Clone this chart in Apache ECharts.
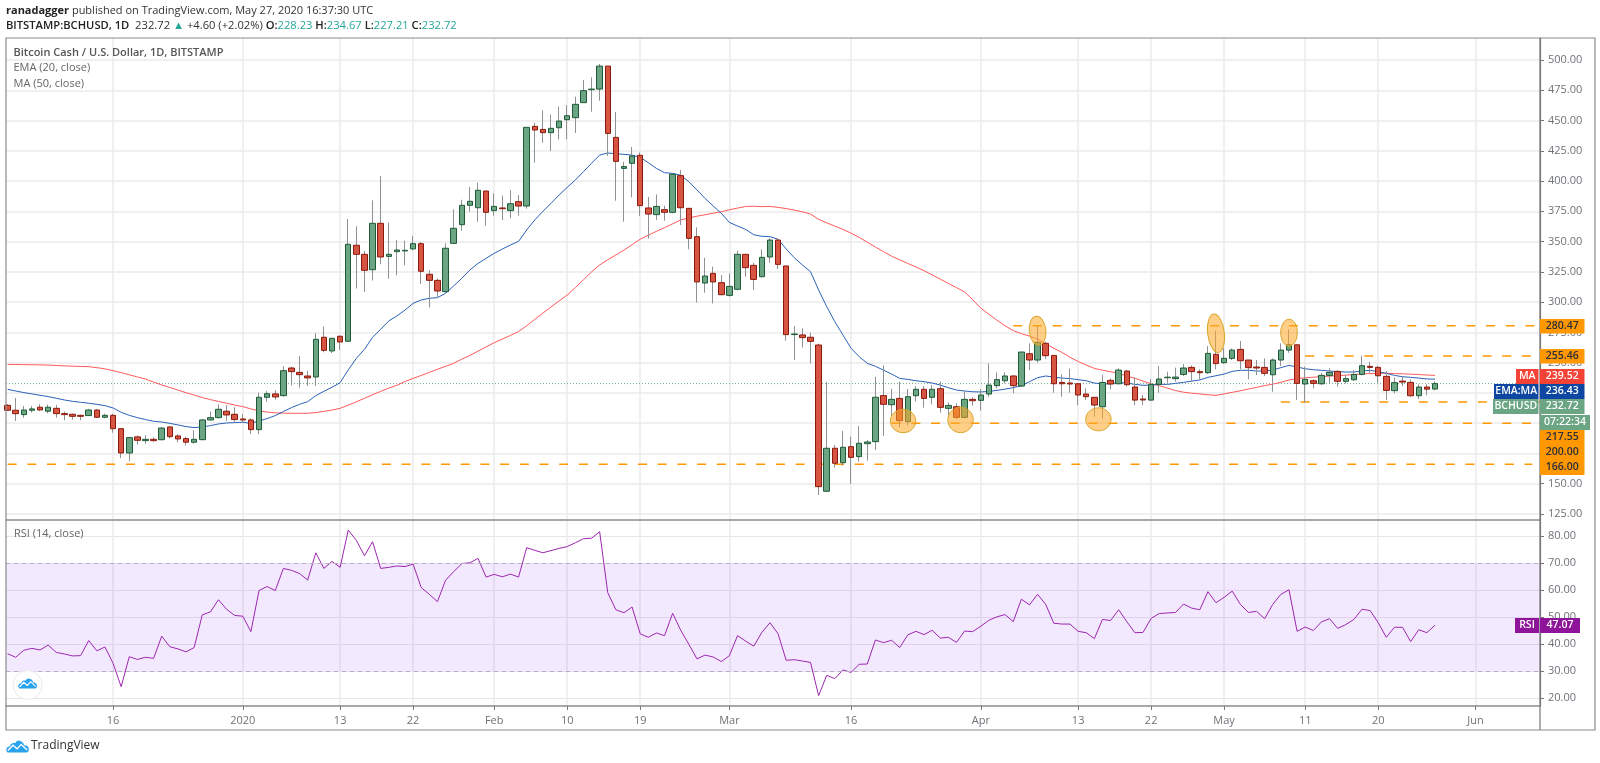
<!DOCTYPE html>
<html><head><meta charset="utf-8">
<style>html,body{margin:0;padding:0;background:#fff}#c{width:1600px;height:763px;filter:blur(.35px)}</style>
<script src="https://cdn.jsdelivr.net/npm/echarts@6/dist/echarts.min.js"></script>
</head><body><div id="c"></div>
<script>
// Daily candles, [open, high, low, close]
const ohlcDec=[[214.8,215.9,210.1,210.7],[210.7,220.9,201.9,207.9],[207.1,214.3,204.6,210.9],[210.7,214.3,208.8,211.8],[213.2,215.6,209.9,211],[209.9,215.4,208.2,213.2],[212.3,215.1,204.6,207.9],[207.9,209.6,202.4,207.1],[207.4,207.9,203,205.7],[206.5,207.1,202.4,205.7],[206.3,211.8,206,210.9],[210.9,211.8,204.3,204.9],[204.9,207.9,204,206.5],[206.5,207.9,192.2,195.5],[195.5,196,171.3,175.4],[175.4,188.7,168.6,188.1],[188.7,189.8,182.3,185.9],[185.6,190.3,183.1,186.7],[186.7,188.4,184.8,185.6],[186.4,196.6,185.6,196],[196.9,197.5,187.5,188.9],[189.5,190.9,184.3,187],[187.3,188.9,181.5,184.3],[184.3,194.2,183.1,186.7],[186.4,203.2,186.2,202.7],[202.7,209.6,202.1,204.6],[204.6,215.6,204,211.5],[209.9,215.1,201.9,206.8],[207.4,213.2,200.8,203]];
const ohlcJan=[[203.5,207.6,200.2,202.7],[202.7,204,191.1,194.7],[194.7,225.3,190.9,221.4],[221.4,226.6,217.8,224.4],[224.2,227.2,219.5,221.7],[222.8,247,222,243.4],[245.6,246.7,231.3,242.6],[242,255.6,229.4,240.1],[239,243.4,230.8,237.4],[238.2,274.3,230.8,269.3],[271,279.8,258.6,260.2],[259.7,270.7,258,270.1],[271.8,272.6,260.5,267.1],[267.7,368.7,267,347.8],[347,362.6,311.2,339.5],[339.5,342.3,308.4,326.3],[326.8,384.1,317.8,365.1],[365.1,404.2,331.3,337.3],[337.8,365.7,319.4,339.5],[341.7,351.3,322.2,343.1],[342.3,350.8,330.4,342.8],[344,354.6,342.8,348.3],[348.3,349.7,315,325.5],[323,326.5,295.7,318],[318,319.4,304,309.2],[308.7,348.6,307.8,344.5],[348.6,376.7,348,361],[364,384.6,359,380],[380,395.1,374.7,383.3],[378,398.7,366.5,392.4],[391.8,392,363.2,374.2]];
const ohlcFeb=[[375.6,389.9,371.4,379.1],[377.8,388,367.9,377.2],[375.6,392.6,369.2,381.3],[383,388.5,371.4,379.4],[379.4,444.4,377.2,444.4],[445.2,448.3,415.2,442.2],[442.7,458.4,431.7,440],[440,454.8,424.8,443.6],[444.1,461.5,434.5,449.6],[450.7,462.8,434.5,454],[452.4,469.7,439.7,463.4],[464.8,483.5,464.5,474.7],[475.5,485.7,457.3,476],[476,496.7,466.4,495],[495,495,420.7,439.4],[436.1,457,383.8,416.3],[410.5,416,366.5,412],[414.7,428.2,386.6,420.7],[421.3,423.7,371.2,379.7],[377.8,386.9,352.4,372.8],[372.3,389,367.9,379.1],[376.4,379.7,367.3,374.2],[374.2,405.8,373.4,405.6],[404.5,409.2,363.7,378],[377.5,377.5,343.6,352.7],[354.1,361.8,299.6,316.7],[315.8,336.7,307.8,321.6],[323.8,329.3,299,316.7],[316.1,322.4,305.6,306.2]];
const ohlcMar=[[305.6,323.8,304.5,313],[310.6,342.5,310,339.5],[339.5,339.5,321,328.5],[330.4,332.6,310,318.8],[321,343.6,320.5,337],[337.3,352.7,332.6,351.3],[351.3,352.7,327.4,331.2],[329.9,329.9,268.2,273.2],[273.2,280.3,252.2,273.7],[272.9,278.4,262.4,270.7],[271,274.8,249.5,267.6],[264.6,265.7,140.7,147.6],[143.8,234,143.2,179.3],[179.3,182,163.3,166.9],[167.4,193.6,165,180.1],[180.6,188.9,149.8,171.8],[172.4,197.7,168.3,183.4],[183.1,186.2,169.1,184.5],[184.8,238.4,177.9,221.4],[222.8,247.8,189.5,215.6],[215.3,228.5,205.9,219.7],[220.5,234.3,196.6,202.1],[201.3,228.2,198,221.9],[222.7,230.7,218,228],[228,230.7,212.8,220.5],[221.4,231.5,215.6,228],[228.5,234.3,208.7,213.1],[212.3,217,206.8,214.7],[213.6,216.4,203.2,204.8],[204.8,226.6,204,219.7],[219.7,221.4,214.5,218.6]];
const ohlcApr=[[218.9,228.2,210.3,223.3],[224.1,249.4,221.9,231.5],[231,242,228.8,236],[235.1,242,232.9,239],[239,239.8,224.7,231],[230.7,258.8,230,258.8],[257.4,266,243.9,252.2],[252.2,280.5,250,266.8],[266,267.3,253,255.8],[256,256,225.2,232.6],[233.7,240.3,221.9,232.6],[233.2,245,225.2,232.4],[232.6,232.6,215,223.3],[224.1,228.8,219.1,221.9],[221.4,221.4,205.4,215],[213.6,239.8,204,233.7],[235.4,237,228,232.4],[232.6,245.3,232,243.9],[243.1,244,230.2,231.8],[229.9,237.9,215,219.1],[220,223.3,215,219.2],[219.1,236.5,218.6,232.1],[232.1,247.2,225.2,236.5],[237.6,242.5,233.5,238],[236.8,245.9,234.3,238.1],[240.3,248.9,239,245.6],[246.1,247.8,234.3,242.6],[242.6,244.5,236.2,241.7],[241.7,263.7,240.6,257.7],[256.9,276.4,244.5,249.2]];
const ohlcMay=[[250,262,249,253.6],[253.6,261.8,252.2,260.4],[261,267.9,244.5,251.6],[252.2,252.2,236.2,245.9],[246.4,252.2,239.8,245.6],[246.1,253.6,239,241.2],[240,253.6,226,252.2],[252.2,266,247.2,260.4],[260.4,277.5,258.2,264.8],[264.8,264.8,219.1,232.9],[232.4,246.7,217,236.2],[235.1,236.2,228.8,232.9],[232.6,241.7,231.5,239.5],[239.5,245.3,232.9,242],[242.8,243.9,230.2,234.6],[234.6,239.8,232.9,236.8],[235.9,243.9,235.1,240.3],[240.3,255.8,239.5,247.5],[247,250.8,241.7,246.1],[246.1,247.2,233.5,239.2],[238.7,243.1,219.1,227.1],[226.9,237.9,224.7,233.5],[234.8,239,230.7,234],[233.7,236.2,221.9,222.7],[222.7,232.1,220,229.9],[229.9,232.1,223,228.12],[228.23,234.67,227.21,232.72]];
const ema20=[228,226.6,225.3,224.2,223.1,222,220.6,219.2,218.1,217.3,216.5,215.6,214.5,212.6,209,206.5,204.6,203,201.6,201,199.9,198.6,197.2,196.4,196.9,198,199.4,200.2,200.5,
200.8,199.9,201.9,203.8,206.3,209.6,212.9,215.6,217.8,222.8,226.4,229.7,233.5,244,253.6,261,271,277.6,284.5,288.6,293.5,299,301.8,303.2,303.7,307.3,313.4,319.7,326.6,332,336.2,
340.3,343.9,347.2,350.2,359.6,367.9,375,381.6,388.5,394.8,400.9,407.8,414.7,421.5,423.2,422.6,422.1,421.5,419.6,415.2,410.5,406.9,406.4,404.8,399.5,392.6,385.7,379.4,373.4,
365.8,362.9,360.1,355.7,354.4,354.1,351.9,343.9,336.7,330.7,325.2,310,296.3,283.9,272.9,261.9,255,249.5,247,243.9,240.6,237,236.2,235.1,234.3,233.2,231.5,229.3,227.4,226.6,226,
225.8,226.3,227.1,228.2,229.3,231,234.3,237.6,239,238.1,237.3,236.8,236,235.1,233.2,232.4,232.6,233.5,233.2,232.1,231.3,231.5,232.1,232.1,232.9,233.7,234.8,235.7,237.9,239.2,
240.6,242.8,243.7,243.7,243.1,243.1,243.9,245.9,247.8,246.4,245,244.2,243.7,243.1,242.6,242.3,242.3,243.1,243.7,242.6,241.2,239.5,238.4,237.9,237.3,236.5,236.43];
const ma50=[248.6,248.5,248.4,248.3,248.2,248,247.7,247.4,247.1,246.9,246.7,245.9,244.9,243.4,241.8,240,238.2,236.5,234,231.6,229.5,227.4,225.2,223.3,221.2,219.5,218,216.5,215,
213.7,211.8,210.3,209.2,208.6,208.3,208.2,208.2,208.2,208.8,209.8,210.9,212.3,214.9,217.7,220.6,223.5,226.3,229,231.3,234.5,237,239.5,242,244.6,247,249.5,252.9,256,259.5,263,
266.5,269.5,272.5,275.7,280.5,285.8,291,296,301,305.9,312,318.5,325,330.7,335,339,343,347.5,352,355.3,358.5,361.5,364.7,367.9,369.5,371,372.2,373.5,374.7,
376.3,377.7,379,379.2,378.9,379.1,378.3,377.3,376,374.6,372.8,368.4,365.5,362.8,360.1,357,353.5,349.5,345.5,341.8,338,335,332,329,326,322.5,319,315.5,312,308.5,302,
295,290,285,280.5,276.5,274,272,269.5,265.5,262,258.5,254.5,251,248,245.3,243.8,242.5,241.2,239,237,234.8,232.5,231,229,227,225.6,224.8,224.2,223.5,223,
224.2,225.5,226.8,228.2,229.6,231,232.3,233.8,235.7,236.9,237.5,238,238.5,238.9,239.3,239.7,240.2,240.7,241,241.2,241.3,241,240.8,240.5,240.2,239.8,239.52];
const rsi14=[36.5,35.2,37.8,38.5,37.9,39.7,37,36.4,35.7,35.8,41.4,37.6,39,33,24.3,35.4,34.4,35.2,34.8,43,39.1,38.3,37.2,38.8,50.9,52,56.5,53,50.7,
50.4,44.7,59.9,61.4,59.9,68.1,67.4,66.2,63.8,73.9,68.1,70.7,68.5,82.3,78.5,72.8,78,68.1,68.5,69,68.8,69.7,61,58.5,55.8,63.7,66.9,69.9,70.2,71.8,64.9,
65.9,65,66,64.9,75.8,74.8,73.9,74.7,75.5,76.2,77.6,79.1,79.3,81.7,59.1,52.8,51.7,53.8,43.9,42.6,44.2,43.2,51.5,45.2,40,34.6,36,35.3,33.6,
35.8,43.2,41.2,39.3,44.4,48,43.9,34.1,34.3,33.8,33.3,21,28.5,27.3,30.5,29.6,32.6,32.7,41.6,40.6,41.5,38.8,43.5,44.8,43.6,45.2,42.3,42.6,40.7,44.9,44.7,
46.7,48.9,50.2,51,48.4,56.7,54.6,58.5,54.8,47.8,47.5,47.5,44.8,44.3,42.1,49.2,48.8,52.8,48.4,44.3,44.4,49.6,51.4,51.6,51.8,54.9,53.4,52.8,59.5,55.4,
57.4,59.7,54.8,51.8,52.2,49.5,54.8,58.5,60.2,44.8,46.4,45.1,48.3,49.5,45.9,47.3,49.2,53,52.5,48,42.6,46.3,46.3,41,45.4,44.3,47.07];

const priceTicks=[125,150,175,200,225,250,275,300,325,350,375,400,425,450,475,500];
const rsiTicks=[20,30,40,50,60,70,80];
const timeTicks=['2019-12-16','2020-01-01','2020-01-13','2020-01-22','2020-02-01','2020-02-10','2020-02-19','2020-03-01','2020-03-16','2020-04-01','2020-04-13','2020-04-22','2020-05-01','2020-05-11','2020-05-20','2020-06-01'];
const timeLabels=['16','2020','13','22','Feb','10','19','Mar','16','Apr','13','22','May','11','20','Jun'];
// Support / resistance levels: [start date, end date, price]
const levels=[['2020-04-05','2020-06-09',280.47],['2020-05-11','2020-06-09',255.46],['2020-05-08','2020-06-09',217.55],['2020-03-21','2020-06-09',200],['2019-12-03','2020-06-08',166]];
// Circled spots on the chart: [date, price]
const highlights=[['2020-03-22T10:00Z',201.8],['2020-03-29T12:00Z',202.7],['2020-04-15T12:00Z',203.2],['2020-04-08T00:00Z',276.4],['2020-04-30T00:00Z',274.3],['2020-05-09T00:00Z',274.8]];
const lastClose=232.72;

const ohlc=[...ohlcDec,...ohlcJan,...ohlcFeb,...ohlcMar,...ohlcApr,...ohlcMay];
if(ohlc.length!==177||ema20.length!==177||ma50.length!==177||rsi14.length!==177)throw new Error('len '+[ohlc.length,ema20.length,ma50.length,rsi14.length]);
const DAY=864e5,t0=Date.UTC(2019,11,3);
const dates=ohlc.map((_,i)=>t0+i*DAY);
const xMin=t0-0.2*DAY,xMax=t0+188.95*DAY;
const tickMs=timeTicks.map(s=>Date.parse(s+'T00:00:00Z'));
const zipped=a=>a.map((v,i)=>[dates[i],v]);

const GRAY='#6f7278',FONT='"Open Sans",sans-serif';
const tag=(x,y,w,h,bg,text,color,weight)=>({type:'rect',z:100,shape:{x,y,width:w,height:h},style:{fill:bg},
  textContent:{z:101,style:{text,fill:color,font:`${weight||600} 10.5px ${FONT}`}},textConfig:{position:'inside'}});
const levelSeries=levels.map(l=>({type:'line',xAxisIndex:0,yAxisIndex:0,data:[[Date.parse(l[0]+'T00:00:00Z'),l[2]],[Date.parse(l[1]+'T00:00:00Z'),l[2]]],showSymbol:false,silent:true,z:3,lineStyle:{color:'#ff9800',width:1.5,type:[9,10.7]}}));
const cloud=[[1.5,13],[.3,11],[.6,8.6],[2,7],[3.8,6.8],[5,4.4],[7,3],[9.6,3],[11,1.4],[13.4,.6],[15.6,1.2],[17.6,2.6],[19,5.6],[21.4,5.8],[23.2,7.4],[23.8,9.4],[23.4,11.6],[22,13]];
const logo=(x,y,s)=>({type:'group',x,y,scaleX:s,scaleY:s,z:110,children:[
  {type:'polygon',shape:{points:cloud},style:{fill:'#2aa3ef'},z:110},
  {type:'polyline',shape:{points:[[2,11],[7.2,5.4],[11.6,9.2],[15.8,4.6],[22,10.4]]},style:{stroke:'#fff',lineWidth:1.4,fill:null},z:111}]});

const bands=[0,1];
const option={
 animation:false,useUTC:true,backgroundColor:'#fff',textStyle:{fontFamily:FONT},
 title:[
  {left:6,top:5,padding:0,text:'{b|ranadagger} published on TradingView.com, May 27, 2020 16:37:30 UTC',textStyle:{fontSize:11,fontWeight:400,color:'#333',fontFamily:FONT,rich:{b:{fontSize:11,fontWeight:700,color:'#222',fontFamily:FONT}}}},
  {left:6,top:20,padding:0,text:'{b|BITSTAMP:BCHUSD, 1D}  232.72 {g|▲} +4.60 (+2.02%) {b|O:}{g|228.23} {b|H:}{g|234.67} {b|L:}{g|227.21} {b|C:}{g|232.72}',textStyle:{fontSize:11.2,fontWeight:400,color:'#333',fontFamily:FONT,rich:{b:{fontSize:11.2,fontWeight:600,color:'#222',fontFamily:FONT},g:{fontSize:11.2,color:'#26a69a',fontFamily:FONT}}}},
  {left:13.5,top:47,padding:0,text:'Bitcoin Cash / U.S. Dollar, 1D, BITSTAMP',textStyle:{fontSize:11,fontWeight:600,color:'#555',fontFamily:FONT}},
  {left:13.5,top:62.5,padding:0,text:'EMA (20, close)',textStyle:{fontSize:11,fontWeight:400,color:'#666',fontFamily:FONT}},
  {left:13.5,top:78,padding:0,text:'MA (50, close)',textStyle:{fontSize:11,fontWeight:400,color:'#666',fontFamily:FONT}},
  {left:14,top:528.5,padding:0,text:'RSI (14, close)',textStyle:{fontSize:11,fontWeight:400,color:'#666',fontFamily:FONT}}
 ],
 grid:[{left:6,right:60,top:38,height:482},{left:6,right:60,top:520,height:186}],
 xAxis:bands.map(i=>({type:'value',gridIndex:i,min:xMin,max:xMax,scale:true,
   axisLine:{show:true,onZero:false,lineStyle:{color:'#8c8c8c',width:1.5}},
   axisTick:{show:i===1,length:4,customValues:tickMs,lineStyle:{color:'#777'}},
   axisLabel:{show:i===1,customValues:tickMs,color:GRAY,fontSize:11,margin:9,fontFamily:FONT,formatter:v=>timeLabels[tickMs.indexOf(v)]||''},
   splitLine:{show:true,lineStyle:{color:'#ebebeb',width:1.5}}})),
 yAxis:[
  {type:'value',gridIndex:0,position:'right',min:120.05,max:518.2,
   axisLine:{show:true,lineStyle:{color:'#777',width:1.2}},
   axisTick:{show:true,length:4,customValues:priceTicks,lineStyle:{color:'#777'}},
   axisLabel:{customValues:priceTicks,color:GRAY,fontSize:11,margin:8,fontFamily:FONT,formatter:v=>v.toFixed(2)},
   splitLine:{show:true,lineStyle:{color:'#ebebeb',width:1.5}}},
  {type:'value',gridIndex:1,position:'right',min:17.15,max:86.04,
   axisLine:{show:true,lineStyle:{color:'#777',width:1.2}},
   axisTick:{show:true,length:4,customValues:rsiTicks,lineStyle:{color:'#777'}},
   axisLabel:{customValues:rsiTicks,color:GRAY,fontSize:11,margin:8,fontFamily:FONT,formatter:v=>v.toFixed(2)},
   splitLine:{show:true,lineStyle:{color:'#e9e4ec',width:1.2}}}
 ],
 series:[
  {name:'Last',type:'line',xAxisIndex:0,yAxisIndex:0,data:[[xMin,lastClose],[xMax,lastClose]],showSymbol:false,silent:true,z:2,lineStyle:{color:'#6ba583',width:1,type:[1,2]}},
  {name:'MA (50, close)',type:'line',xAxisIndex:0,yAxisIndex:0,data:zipped(ma50),showSymbol:false,silent:true,z:3,lineStyle:{color:'#ff5a5a',width:1}},
  {name:'EMA (20, close)',type:'line',xAxisIndex:0,yAxisIndex:0,data:zipped(ema20),showSymbol:false,silent:true,z:3,lineStyle:{color:'#2a62b8',width:1}},
  ...levelSeries,
  {name:'Wicks',type:'candlestick',xAxisIndex:0,yAxisIndex:0,barWidth:1,z:4,silent:true,
   data:ohlc.map((d,i)=>[dates[i],d[0],d[3],d[2],d[1]]),
   itemStyle:{color:'#8f9194',color0:'#8f9194',borderColor:'#8f9194',borderColor0:'#8f9194',borderWidth:1}},
  {name:'BCHUSD',type:'candlestick',xAxisIndex:0,yAxisIndex:0,barWidth:6,z:5,silent:true,
   data:ohlc.map((d,i)=>[dates[i],d[0],d[3],Math.min(d[0],d[3]),Math.max(d[0],d[3])]),
   itemStyle:{color:'#6ba583',color0:'#d75442',borderColor:'#1d5a36',borderColor0:'#8a1a0c',borderWidth:1}},
  {name:'Highlights',type:'custom',xAxisIndex:0,yAxisIndex:0,z:6,silent:true,
   data:highlights.map(h=>[Date.parse(h[0]),h[1]]),encode:{x:0,y:1},clip:false,
   renderItem:(p,api)=>{const c=api.coord([api.value(0),api.value(1)]);const s=[[12.7,11.7,0],[12.7,12.7,0],[12.7,11.5,0],[8.3,14.5,.1],[8.3,19.3,.12],[8.3,13.5,0]][p.dataIndex];
     return {type:'ellipse',x:c[0],y:c[1],rotation:s[2],shape:{cx:0,cy:0,rx:s[0],ry:s[1]},style:{fill:'rgba(255,167,38,.55)',stroke:'#d8a62a',lineWidth:1}};}},
  {name:'RSI',type:'line',xAxisIndex:1,yAxisIndex:1,data:zipped(rsi14),showSymbol:false,silent:true,z:4,lineStyle:{color:'#9c27b0',width:1},
   markArea:{silent:true,itemStyle:{color:'rgba(153,60,245,.115)'},data:[[{yAxis:70},{yAxis:30}]]},
   markLine:{silent:true,symbol:'none',label:{show:false},lineStyle:{color:'#b5aebb',type:[4,4],width:1},data:[{yAxis:70},{yAxis:30}]}}
 ],
 graphic:[
  {type:'rect',z:50,silent:true,shape:{x:6,y:38,width:1589,height:692},style:{fill:null,stroke:'#8c8c8c',lineWidth:1.2}},
  {type:'line',z:50,silent:true,shape:{x1:1540,y1:38,x2:1540,y2:730},style:{stroke:'#777',lineWidth:1.2}},
  tag(1540,319,44.5,14.5,'#ff9800','280.47','#2a2e39'),
  tag(1540,349,44.5,14.5,'#ff9800','255.46','#2a2e39'),
  tag(1516,369,22.5,15,'#f44336','MA','#fff'),
  tag(1540,369,44.5,15,'#f44336','239.52','#fff'),
  tag(1494,384,44.5,15,'#0d47a1','EMA:MA','#fff'),
  tag(1540,384,44.5,15,'#0d47a1','236.43','#fff'),
  tag(1493,399,45.5,15,'#6ba583','BCHUSD','#fff'),
  tag(1540,399,44.5,15,'#6ba583','232.72','#fff'),
  tag(1540,415,50,15,'#6ba583','07:22:34','#fff'),
  tag(1540,430,44.5,15,'#ff9800','217.55','#2a2e39'),
  tag(1540,445,44.5,15,'#ff9800','200.00','#2a2e39'),
  tag(1540,460,44.5,15,'#ff9800','166.00','#2a2e39'),
  tag(1515,618,24,15,'#8e1599','RSI','#fff'),
  tag(1540,618,40,15,'#8e1599','47.07','#fff'),
  {type:'circle',z:105,silent:true,shape:{cx:27.5,cy:685,r:14.5},style:{fill:'#fff',stroke:'#eaeaea',lineWidth:1}},
  logo(18,678,.8),
  logo(6,740,.96),
  {type:'text',z:110,x:31,y:740,style:{text:'TradingView',fill:'#333',font:`12px ${FONT}`}}
 ]
};
echarts.init(document.getElementById('c'),null,{renderer:'canvas'}).setOption(option);
</script></body></html>
